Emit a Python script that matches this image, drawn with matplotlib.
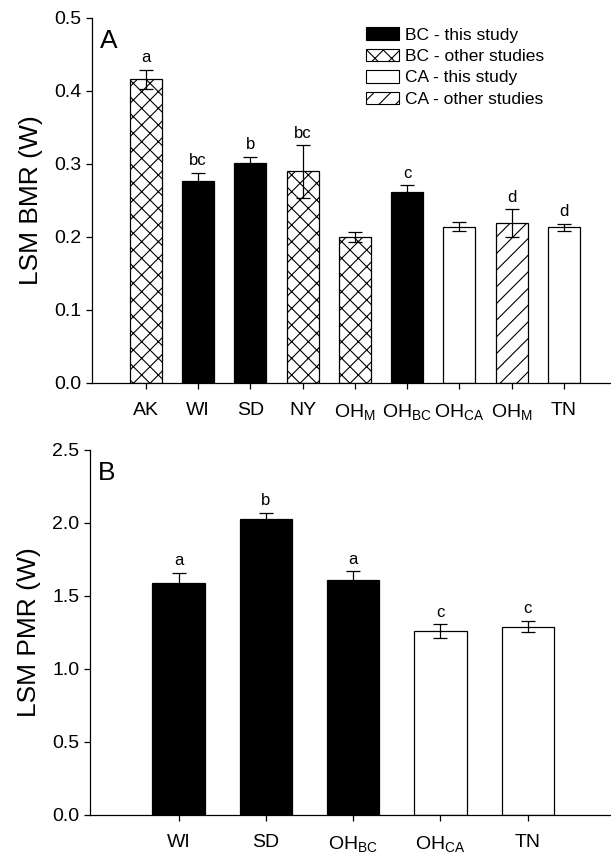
import matplotlib
matplotlib.use("Agg")
import matplotlib.pyplot as plt
from matplotlib.patches import Patch

plt.rcParams['font.family'] = ['Liberation Sans', 'DejaVu Sans']
plt.rcParams['hatch.linewidth'] = 0.8
plt.rcParams['hatch.color'] = 'black'

# Panel A data
a_labels = ['AK', 'WI', 'SD', 'NY', r'OH$_{\mathregular{M}}$', r'OH$_{\mathregular{BC}}$',
            r'OH$_{\mathregular{CA}}$', r'OH$_{\mathregular{M}}$', 'TN']
a_values = [0.416, 0.277, 0.302, 0.290, 0.200, 0.261, 0.214, 0.219, 0.213]
a_errors = [0.013, 0.011, 0.008, 0.036, 0.007, 0.010, 0.006, 0.019, 0.005]
a_groups = ['bco', 'bct', 'bct', 'bco', 'bco', 'bct', 'cat', 'cao', 'cat']
a_letters = ['a', 'bc', 'b', 'bc', '', 'c', '', 'd', 'd']

# Panel B data
b_labels = ['WI', 'SD', r'OH$_{\mathregular{BC}}$', r'OH$_{\mathregular{CA}}$', 'TN']
b_values = [1.59, 2.03, 1.61, 1.26, 1.29]
b_errors = [0.07, 0.04, 0.06, 0.047, 0.04]
b_groups = ['bct', 'bct', 'bct', 'cat', 'cat']
b_letters = ['a', 'b', 'a', 'c', 'c']

styles = {
    'bct': dict(facecolor='black', hatch=None),
    'bco': dict(facecolor='white', hatch='xx'),
    'cat': dict(facecolor='white', hatch=None),
    'cao': dict(facecolor='white', hatch='//'),
}
legend_names = [('bct', 'BC - this study'), ('bco', 'BC - other studies'),
                ('cat', 'CA - this study'), ('cao', 'CA - other studies')]

fig = plt.figure(figsize=(6.11, 8.56), dpi=100)
axA = fig.add_axes([0.1506, 0.5526, 0.8494, 0.4264])
axB = fig.add_axes([0.1473, 0.0479, 0.8527, 0.4264])


def draw(ax, labels, values, errors, groups, letters, width, off):
    x = list(range(len(values)))
    for xi, v, g in zip(x, values, groups):
        st = styles[g]
        ax.bar(xi, v, width=width, facecolor=st['facecolor'], edgecolor='black',
               linewidth=0.9, hatch=st['hatch'], zorder=2)
    ax.errorbar(x, values, yerr=errors, fmt='none', ecolor='black', elinewidth=0.9,
                capsize=5, capthick=0.9, zorder=3)
    for xi, v, e, t in zip(x, values, errors, letters):
        if t:
            ax.text(xi, v + e + off, t, ha='center', va='bottom', fontsize=12)
    ax.set_xticks(x)
    ax.set_xticklabels(labels, fontsize=14)
    for s in ['top', 'right']:
        ax.spines[s].set_visible(False)
    for s in ['left', 'bottom']:
        ax.spines[s].set_linewidth(0.9)
    ax.tick_params(axis='both', direction='out', length=4, width=0.9, labelsize=14)
    ax.tick_params(axis='x', pad=10)


draw(axA, a_labels, a_values, a_errors, a_groups, a_letters, 0.61, 0.006)
axA.set_xlim(-1.03, 8.9)
axA.set_ylim(0, 0.5)
axA.set_yticks([0.0, 0.1, 0.2, 0.3, 0.4, 0.5])
axA.set_yticklabels(['0.0', '0.1', '0.2', '0.3', '0.4', '0.5'])
axA.set_ylabel('LSM BMR (W)', fontsize=19, labelpad=8)
axA.text(0.015, 0.97, 'A', transform=axA.transAxes, fontsize=19, va='top', ha='left')
handles = [Patch(facecolor=styles[k]['facecolor'], edgecolor='black', linewidth=0.8,
                 hatch=styles[k]['hatch'], label=n) for k, n in legend_names]
axA.legend(handles=handles, loc='upper left', bbox_to_anchor=(0.527, 0.975),
           frameon=False, fontsize=12.5, handlelength=1.95, handleheight=0.75,
           handletextpad=0.3, labelspacing=0.35, borderaxespad=0, borderpad=0)

draw(axB, b_labels, b_values, b_errors, b_groups, b_letters, 0.60, 0.03)
axB.set_xlim(-1.014, 4.954)
axB.set_ylim(0, 2.5)
axB.set_yticks([0.0, 0.5, 1.0, 1.5, 2.0, 2.5])
axB.set_yticklabels(['0.0', '0.5', '1.0', '1.5', '2.0', '2.5'])
axB.set_ylabel('LSM PMR (W)', fontsize=19, labelpad=8)
axB.text(0.015, 0.97, 'B', transform=axB.transAxes, fontsize=19, va='top', ha='left')

fig.savefig('out.png', dpi=100)
